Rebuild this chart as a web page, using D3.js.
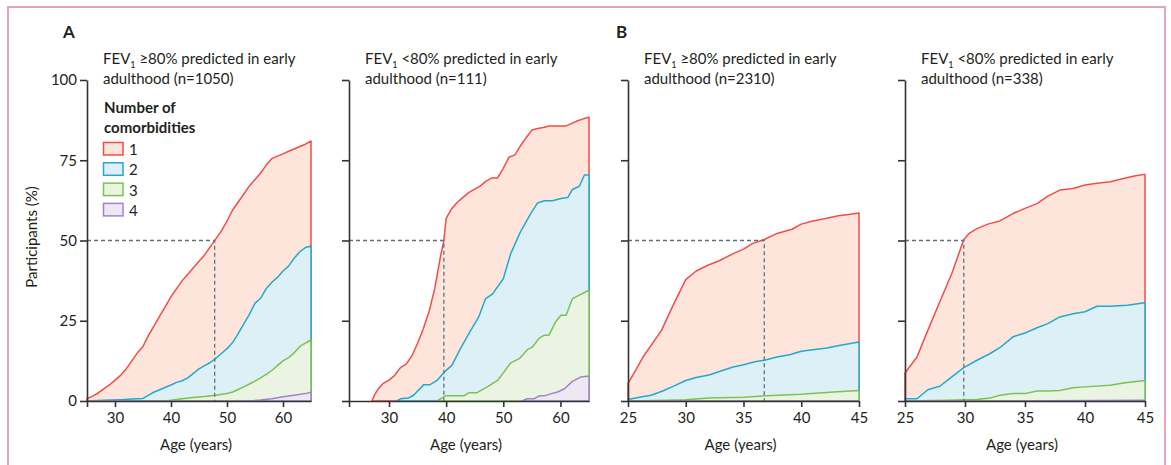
<!DOCTYPE html>
<html>
<head>
<meta charset="utf-8">
<script src="https://cdn.jsdelivr.net/npm/d3@7"></script>
<style>
  body { margin: 0; background: #fff; }
  svg text { font-family: Lato, "Open Sans", sans-serif; fill: #231f20; }
</style>
</head>
<body>
<svg id="chart" width="1171" height="465"></svg>
<script>

// tick values and labels
var pctTicks = [0, 25, 50, 75, 100];
var ageTicksA1 = [25, 30, 40, 50, 60];
var ageTicksA2 = [23, 30, 40, 50, 60];
var ageTicksB = [25, 30, 35, 40, 45];
var ageDomains = [[25, 65], [23, 65], [25, 45], [25, 45]];
var panelLetters = ["A", "", "B", ""];
var titleLine1 = ["\u226580% predicted in early", "<80% predicted in early", "\u226580% predicted in early", "<80% predicted in early"];
var titleLine2 = ["adulthood (n=1050)", "adulthood (n=111)", "adulthood (n=2310)", "adulthood (n=338)"];
var legendLabels = ["1", "2", "3", "4"];
// age where 50% had at least one comorbidity
var medianAge = [47.8, 39.6, 36.8, 29.9];

// A, FEV1 >=80% (n=1050)
var a1_one = [[25,0.7],[26,1.5],[27,2.5],[28,3.8],[29,5],[30,6.5],[31,8],[32,10],[33,12.5],[34,15],[35,17],[36,20.5],[37,23.5],[38,26.5],[39,29.5],[40,32.5],[41,35],[42,37.5],[43,39.5],[44,41.5],[45,43.5],[46,45.5],[47,48],[48,50.5],[49,53],[50,56],[51,59.5],[52,62],[53,64.5],[54,67],[55,69],[56,71],[57,73.5],[58,75.5],[59,76.3],[60,77],[61,77.8],[62,78.5],[63,79.3],[64,80],[65,81]];
var a1_two = [[25,0],[28,0.2],[31,0.4],[33,0.6],[35,0.8],[36,1.8],[37,2.8],[38,3.5],[39,4.3],[40,5],[41,5.8],[42,6.3],[43,7.2],[44,8.6],[45,10],[46,11],[47,12],[48,13.3],[49,14.8],[50,16.3],[51,18.2],[52,21],[53,24],[54,27],[55,30.5],[56,32],[57,35],[58,37],[59,38.5],[60,40.5],[61,42],[62,44.5],[63,46.5],[64,47.8],[65,48.3]];
var a1_three = [[25,0],[39,0],[40,0.2],[42,0.7],[44,1.1],[46,1.4],[48,1.8],[50,2.3],[51,2.8],[52,3.6],[53,4.4],[54,5.3],[55,6.2],[56,7.2],[57,8.3],[58,9.5],[59,11],[60,12.5],[61,13.5],[62,15],[63,17],[64,18],[65,19]];
var a1_four = [[25,0],[54,0],[56,0.3],[58,0.7],[60,1.3],[62,1.8],[64,2.3],[65,2.7]];

// A, FEV1 <80% (n=111)
var a2_one = [[27,0],[27.5,2],[28,3.5],[29,5.5],[30,6.5],[31,8],[32,10.4],[33,11.5],[34,14],[35,18],[36,22.5],[37,27.8],[38,35],[39,45],[39.6,50],[40,56.9],[41,60],[42,62],[43,63.5],[44,65],[45,66],[46,67],[47,68.5],[48,69.5],[49,69.5],[50,72.5],[51,76],[52,76.6],[53,79.5],[54,82],[55,84.4],[56,84.9],[57,85.2],[58,85.7],[61,85.7],[62,86.5],[63,87.3],[64,87.9],[65,88.4]];
var a2_two = [[31.4,0],[32,0.7],[33.4,0.9],[34.3,1.8],[36.1,5.1],[37.2,5.1],[38.4,6.4],[39.9,9.4],[41,11.1],[42.5,16.3],[44.3,22],[45.7,26.2],[46.9,31.9],[48.1,33.3],[50,38.1],[51.3,45.9],[53,52.7],[54.8,58.4],[56,61.7],[57.2,62.4],[58.6,62.4],[60.1,63.1],[61.3,63.4],[62.1,65.9],[63.3,66.9],[64.2,70.4],[65,70.4]];
var a2_three = [[38.4,0],[39.9,1.6],[43.1,1.6],[44,2.6],[45.4,2.6],[47.2,4.4],[49,6.4],[50.1,9],[51.3,11.9],[52.8,13.2],[54.2,16],[55.1,16.8],[56.3,19.6],[57.2,20.5],[58,20.5],[59.2,24.8],[60.1,26.7],[61,26.7],[62.1,31.9],[63.3,33],[65,34.5]];
var a2_four = [[53.3,0],[54.2,0.7],[55.4,0.7],[56.3,1.6],[57.2,1.6],[58.4,2.3],[59.5,2.8],[60.7,3.8],[62.1,6.1],[63.6,7.5],[65,7.8]];

// B, FEV1 >=80% (n=2310)
var b1_one = [[25,5.4],[26.3,13.7],[27.9,22],[28.9,29.8],[30,37.8],[30.9,40.5],[31.9,42.3],[32.9,43.7],[34.1,45.9],[35,47.3],[35.8,49.1],[36.8,50.3],[37.9,52.2],[39.2,53.5],[40,55.1],[41,56.1],[42.2,56.9],[43.2,57.7],[44.1,58.1],[45,58.6]];
var b1_two = [[25,0.5],[26,1.2],[27,1.8],[28,3.1],[29,4.7],[30,6.4],[30.9,7.3],[32.1,8.2],[33.1,9.4],[34.1,10.6],[35,11.3],[36,12.2],[36.8,12.7],[37.9,13.7],[39,14.4],[40,15.5],[41,16],[42.2,16.5],[43.4,17.4],[45,18.4]];
var b1_three = [[25,0],[28.3,0.2],[30,0.4],[32,0.9],[35,1.2],[38,1.8],[40,2.1],[42.8,2.8],[45,3.3]];
var b1_four = [[25,0],[45,0]];

// B, FEV1 <80% (n=338)
var b2_one = [[25,8.7],[26,13.7],[26.9,22],[27.9,30.9],[28.9,39.7],[29.9,50.3],[30.4,52.4],[31,53.7],[31.9,55.1],[32.9,56.1],[34,58.4],[35,60],[36,61.5],[36.9,63.8],[37.9,65.7],[39,66.2],[40,67.3],[41,67.8],[42.1,68.3],[43.2,69.3],[44.2,70.2],[45,70.6]];
var b2_two = [[25,0.7],[26,0.7],[26.9,3.5],[27.9,4.6],[28.9,7.5],[29.9,10.4],[31,12.7],[32.1,14.8],[32.9,16.6],[34,20],[35,21.2],[36,22.8],[36.9,24.1],[37.9,26.2],[39,27.2],[40,27.8],[41,29.5],[42.1,29.5],[43.5,29.8],[45,30.6]];
var b2_three = [[25,0],[28.5,0.2],[31,0.5],[32.1,0.9],[32.9,1.8],[34,2.3],[35,2.3],[36,3.1],[36.9,3.1],[37.9,3.3],[39,4.1],[40,4.4],[42.1,4.9],[43.2,5.6],[45,6.4]];
var b2_four = [[25,0],[35,0],[37,0.1],[45,0.2]];

var panelSeries = [
    [a1_one, a1_two, a1_three, a1_four],
    [a2_one, a2_two, a2_three, a2_four],
    [b1_one, b1_two, b1_three, b1_four],
    [b2_one, b2_two, b2_three, b2_four]
];
var panelTicks = [ageTicksA1, ageTicksA2, ageTicksB, ageTicksB];

// styles
var lineColors = ["#f04e46", "#24a8cf", "#7dc152", "#a084c8"];
var fillColors = ["#fde5dc", "#ddf0f6", "#ebf4e2", "#eee8f4"];
var axisColor = "#333";
var dashColor = "#5d7283";

// layout (pixel ranges of each panel)
var panelX = [[87, 311], [349, 589], [628, 859], [905, 1145]];
var plotTop = 80, plotBottom = 401;

var svg = d3.select("#chart");

// outer pink frame
svg.append("rect")
    .attr("x", 8).attr("y", 7)
    .attr("width", 1157).attr("height", 520)
    .attr("fill", "none")
    .attr("stroke", "#e7a3b7")
    .attr("stroke-width", 2);

var y = d3.scaleLinear().domain([0, 100]).range([plotBottom, plotTop]);

panelSeries.forEach(function(series, p) {

    var x = d3.scaleLinear().domain(ageDomains[p]).range(panelX[p]);
    var g = svg.append("g");

    var area = d3.area()
        .x(function(d) { return x(d[0]); })
        .y0(y(0))
        .y1(function(d) { return y(d[1]); });

    // areas, one on top of the other
    series.forEach(function(s, i) {
        g.append("path")
            .datum(s)
            .attr("d", area)
            .attr("fill", fillColors[i])
            .attr("stroke", lineColors[i])
            .attr("stroke-width", 1.5)
            .attr("stroke-linejoin", "round");
    });

    // median dashed guides
    g.append("path")
        .attr("d", "M" + x(ageDomains[p][0]) + "," + y(50) + "H" + x(medianAge[p]) + "V" + y(0))
        .attr("fill", "none")
        .attr("stroke", dashColor)
        .attr("stroke-width", 1.3)
        .attr("stroke-dasharray", "4,3");

    // axes
    var yAxis = d3.axisLeft(y)
        .tickValues(pctTicks)
        .tickSize(7)
        .tickPadding(3)
        .tickSizeOuter(0);
    if (p > 0) yAxis.tickFormat("");

    var xAxis = d3.axisBottom(x)
        .tickValues(panelTicks[p])
        .tickSize(6)
        .tickPadding(5)
        .tickSizeOuter(0)
        .tickFormat(function(d) { return (p < 2 && d === ageDomains[p][0]) ? "" : d; });

    var ya = g.append("g")
        .attr("transform", "translate(" + panelX[p][0] + ",0)")
        .call(yAxis);
    var xa = g.append("g")
        .attr("transform", "translate(0," + plotBottom + ")")
        .call(xAxis);

    [ya, xa].forEach(function(a) {
        a.selectAll("path, line").attr("stroke", axisColor).attr("stroke-width", 1.6);
        a.selectAll("text").attr("font-size", 15).attr("fill", "#231f20")
            .style("font-family", "Lato, 'Open Sans', sans-serif");
    });

    // x title
    g.append("text")
        .attr("x", (panelX[p][0] + panelX[p][1]) / 2 - 3)
        .attr("y", 450)
        .attr("text-anchor", "middle")
        .attr("font-size", 15)
        .text("Age (years)");

    // panel title with FEV1 subscript
    var tx = panelX[p][0] + 16;
    var t1 = g.append("text").attr("x", tx).attr("y", 64).attr("font-size", 15);
    t1.append("tspan").text("FEV");
    t1.append("tspan").attr("font-size", 9).attr("dy", 4).text("1");
    t1.append("tspan").attr("dy", -4).text(" " + titleLine1[p]);
    g.append("text").attr("x", tx).attr("y", 84).attr("font-size", 15).text(titleLine2[p]);

    if (panelLetters[p]) {
        g.append("text")
            .attr("x", panelX[p][0] - 24 + (p === 2 ? 12 : 0))
            .attr("y", 38)
            .attr("font-size", 17)
            .attr("font-weight", "bold")
            .text(panelLetters[p]);
    }
});

// y axis title
svg.append("text")
    .attr("transform", "translate(37,237) rotate(-90)")
    .attr("text-anchor", "middle")
    .attr("font-size", 15)
    .text("Participants (%)");

// legend
var lg = svg.append("g");
lg.append("text").attr("x", 104).attr("y", 112.5).attr("font-size", 15).attr("font-weight", "bold").text("Number of");
lg.append("text").attr("x", 104).attr("y", 132.5).attr("font-size", 15).attr("font-weight", "bold").text("comorbidities");
legendLabels.forEach(function(l, i) {
    lg.append("rect")
        .attr("x", 103.5).attr("y", 142.5 + i * 20.3)
        .attr("width", 19.5).attr("height", 12.5)
        .attr("fill", fillColors[i])
        .attr("stroke", lineColors[i])
        .attr("stroke-width", 1.5);
    lg.append("text")
        .attr("x", 129).attr("y", 155 + i * 20.3)
        .attr("font-size", 15)
        .text(l);
});

</script>
</body>
</html>
